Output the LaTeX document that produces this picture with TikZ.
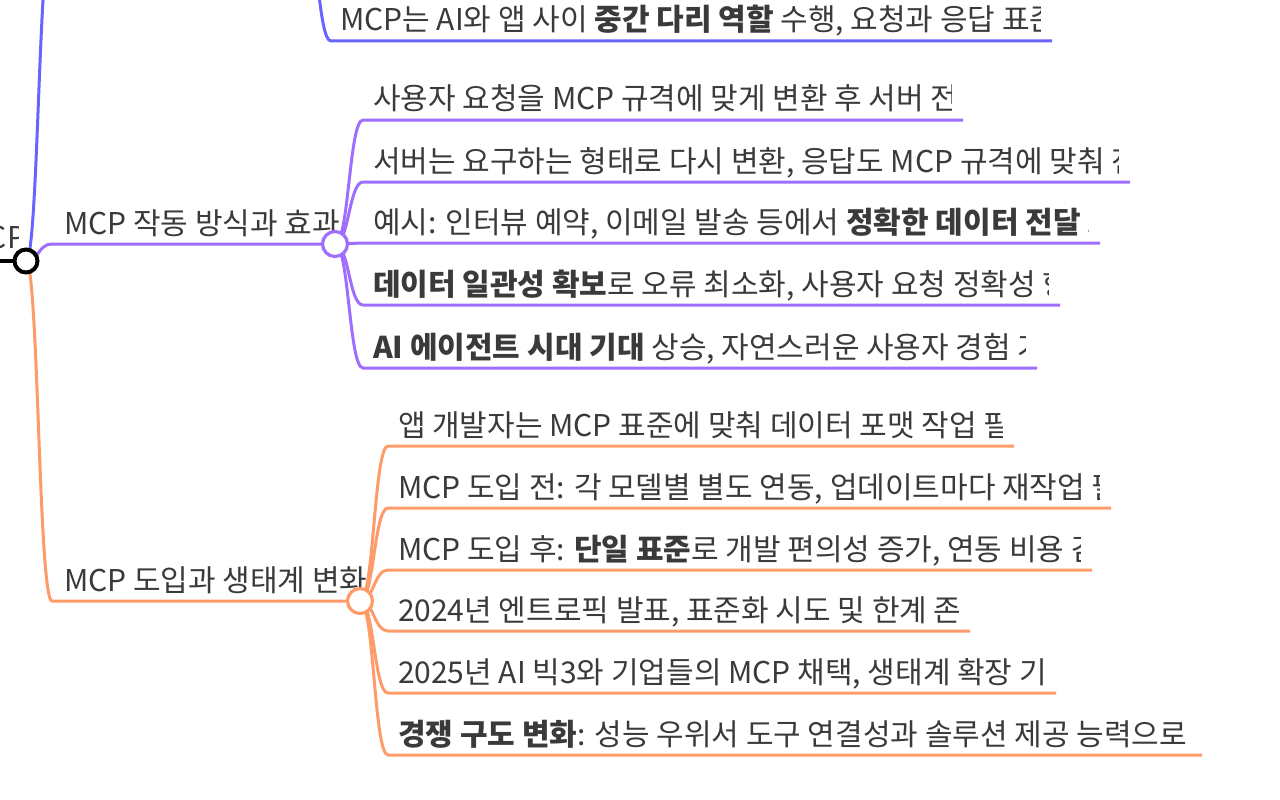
\documentclass[tikz,border=0pt]{standalone}
\usepackage{fontspec}
\setmainfont{Noto Sans CJK KR}
\usetikzlibrary{backgrounds}
\definecolor{cblue}{HTML}{6964FF}
\definecolor{cpurple}{HTML}{A06EFF}
\definecolor{corange}{HTML}{FF9B69}
\definecolor{ctext}{HTML}{3A3A3A}
\tikzset{
  lbl/.style={anchor=base west, inner sep=0pt, outer sep=0pt, text=ctext, font=\fontsize{30}{36}\selectfont},
  hub/.style={circle, draw, fill=white, line width=3.2pt, minimum size=25pt, inner sep=0pt},
  link/.style={line width=3pt},
}
\newcommand\mmleaf[5]{%
  \begin{scope}
    \clip (#3-4,#2-48) rectangle (#4-12,#2+2);
    \node[lbl] (#1) at (#3,#2-10) {#5};
  \end{scope}
  \coordinate (#1e) at (#4,#2);
}
\begin{document}
\begin{tikzpicture}[x=1pt,y=-1pt]
\useasboundingbox (0,0) rectangle (1280,800);

% root text (clipped)
\begin{scope}
  \clip (0,200) rectangle (18,258);
  \node[lbl, anchor=base east] (rt) at (26,248) {MCP};
\end{scope}
\coordinate (rl) at (0,261);
\coordinate (bhub) at (305,-67);

% branch texts
\node[lbl] (t2) at (64,234) {MCP 작동 방식과 효과};
\node[lbl] (t3) at (64,591) {MCP 도입과 생태계 변화};

% blue leaf
\mmleaf{b1}{41}{340}{1052}{MCP는 AI와 앱 사이 \textbf{중간 다리 역할} 수행, 요청과 응답 표준}

% purple leaves
\mmleaf{p1}{120}{373}{963}{사용자 요청을 MCP 규격에 맞게 변환 후 서버 전달}
\mmleaf{p2}{182}{373}{1130}{서버는 요구하는 형태로 다시 변환, 응답도 MCP 규격에 맞춰 전}
\mmleaf{p3}{243}{373}{1100}{예시: 인터뷰 예약, 이메일 발송 등에서 \textbf{정확한 데이터 전달} 보}
\mmleaf{p4}{305}{373}{1060}{\textbf{데이터 일관성 확보}로 오류 최소화, 사용자 요청 정확성 향}
\mmleaf{p5}{368}{373}{1037}{\textbf{AI 에이전트 시대 기대} 상승, 자연스러운 사용자 경험 가}

% orange leaves
\mmleaf{o1}{446}{398}{1014}{앱 개발자는 MCP 표준에 맞춰 데이터 포맷 작업 필}
\mmleaf{o2}{508}{398}{1111}{MCP 도입 전: 각 모델별 별도 연동, 업데이트마다 재작업 필}
\mmleaf{o3}{570}{398}{1092}{MCP 도입 후: \textbf{단일 표준}로 개발 편의성 증가, 연동 비용 감}
\mmleaf{o4}{631}{398}{970}{2024년 엔트로픽 발표, 표준화 시도 및 한계 존}
\mmleaf{o5}{693}{398}{1056}{2025년 AI 빅3와 기업들의 MCP 채택, 생태계 확장 기대}
\mmleaf{o6}{755}{398}{1202}{\textbf{경쟁 구도 변화}: 성능 우위서 도구 연결성과 솔루션 제공 능력으로}

% hubs
\node[hub, draw=black, line width=4pt, minimum size=23pt] (r) at (26,261) {};
\node[hub, draw=cpurple] (c2) at (335,244) {};
\node[hub, draw=corange] (c3) at (360,601) {};

\begin{scope}[on background layer]
  \draw[line width=4pt, black] (rl) -- (r.center);
  % blue
  \draw[link, cblue] (r.center) .. controls (38.5,261) and (38.5,-67) .. (52,-67) -- (bhub);
  \draw[link, cblue] (bhub) .. controls (318,-67) and (318,41) .. (331,41) -- (b1e);
  % purple
  \draw[link, cpurple] (r.center) .. controls (38.5,261) and (38.5,244) .. (52,244) -- (c2.center);
  \foreach \n/\y in {p1/120,p2/182,p3/243,p4/305,p5/368}
    \draw[link, cpurple] (c2.center) .. controls (349,244) and (349,\y) .. (363,\y) -- (\n e);
  % orange
  \draw[link, corange] (r.center) .. controls (38.5,261) and (38.5,601) .. (52,601) -- (c3.center);
  \foreach \n/\y in {o1/446,o2/508,o3/570,o4/631,o5/693,o6/755}
    \draw[link, corange] (c3.center) .. controls (374,601) and (374,\y) .. (388,\y) -- (\n e);
\end{scope}
\end{tikzpicture}
\end{document}
